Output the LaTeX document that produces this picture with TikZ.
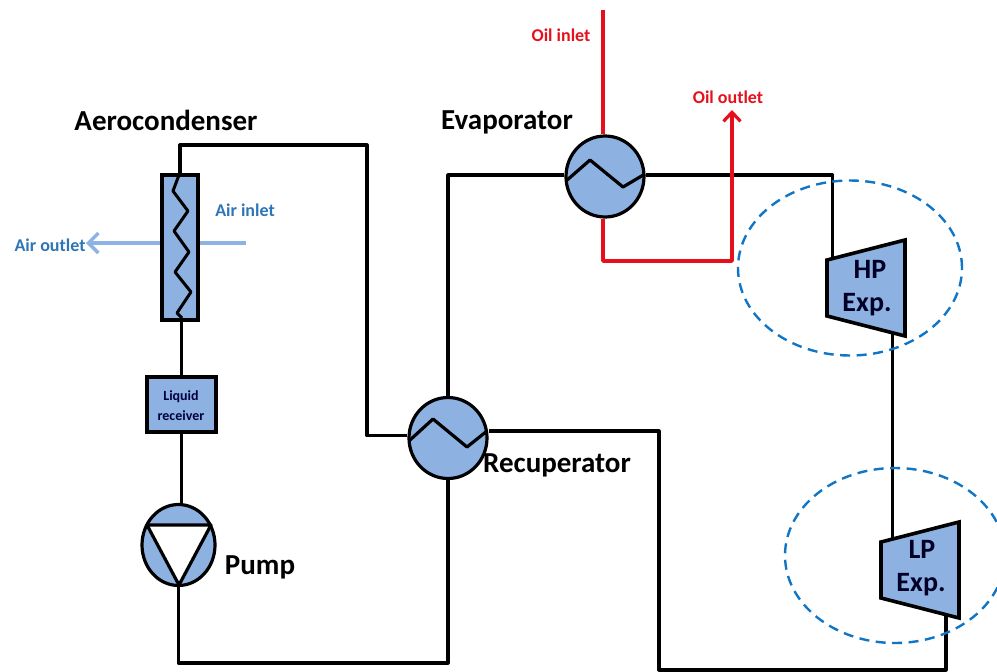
\documentclass[tikz,border=0pt]{standalone}
\usepackage{fontspec}
\setmainfont{Carlito}
\usetikzlibrary{shapes.geometric,arrows.meta}
\definecolor{eqfill}{HTML}{8DB1E1}
\definecolor{oilred}{HTML}{E6101C}
\definecolor{airline}{HTML}{8FB2E4}
\definecolor{airtext}{HTML}{2E75B6}
\definecolor{dashblue}{HTML}{0F75C4}
\tikzset{
  pipe/.style={draw=black,line width=3.2pt,line join=round},
  oil/.style={draw=oilred,line width=3.4pt,line join=round},
  air/.style={draw=airline,line width=3.4pt},
  hx/.style={ellipse,draw=black,fill=eqfill,line width=3.2pt,inner sep=0pt,minimum width=78pt,minimum height=81pt},
  eqbox/.style={rectangle,draw=black,fill=eqfill,line width=3.4pt,inner sep=0pt},
  expander/.style={draw=black,fill=eqfill,line width=3.6pt,line join=miter},
  zone/.style={draw=dashblue,line width=2.4pt,dash pattern=on 10pt off 6.5pt},
  title/.style={font=\bfseries\fontsize{29}{32}\selectfont,text=black,inner sep=0pt},
  exptext/.style={font=\bfseries\fontsize{28}{32}\selectfont,text=black!85!blue,inner sep=0pt},
  small/.style={font=\bfseries\fontsize{18}{20}\selectfont,inner sep=0pt},
  tiny/.style={font=\bfseries\fontsize{14}{16}\selectfont,text=black!75!blue,inner sep=0pt}
}
\begin{document}
\begin{tikzpicture}[x=1pt,y=-1pt]
\useasboundingbox (0,0) rectangle (997,672);
% reference points of the free ends and the bends
\coordinate (oilin) at (603,10);
\coordinate (oilbend) at (603,261);
\coordinate (oilout) at (732,110);
\coordinate (airin) at (246,243);
\coordinate (airout) at (86,243);
\coordinate (hpin) at (832.5,258);
\coordinate (hpout) at (892.5,333);
\coordinate (lpin) at (892.5,538);
\coordinate (lpout) at (946,616);
\coordinate (top1) at (180,145);
\coordinate (top2) at (367,145);
\coordinate (bot1) at (178.5,663);
\coordinate (bot2) at (448,663);
\coordinate (ret1) at (946,670);
\coordinate (ret2) at (659,670);
\coordinate (ret3) at (659,431);
\coordinate (evapcorner) at (832.5,175);

% air stream (behind the condenser)
\draw[air,-{Straight Barb[length=10pt,width=20pt,line width=3.4pt]}] (airin) -- (airout);

% equipment
\node[eqbox,minimum width=36pt,minimum height=145pt] (cond) at (180,247.5) {};
\node[eqbox,minimum width=69pt,minimum height=55pt] (recv) at (181.5,404.5) {};
\node[hx,minimum width=73pt,minimum height=81pt] (pump) at (178.5,545) {};
\node[hx] (evap) at (605,176.5) {};
\node[hx] (recup) at (448,438) {};

% black connectors
\draw[pipe] (cond.north -| top1) -- (top1) -- (top2) |- (recup.177);
\draw[pipe] (cond.south -| recv.north) -- (recv.north);
\draw[pipe] (recv.south) -- (pump.north -| recv.south);
\draw[pipe] (pump.south) -- (bot1) -- (bot2) -- (recup.south);
\draw[pipe] (recup.north) |- (evap.178);
\draw[pipe] (evapcorner -| evap.east) -- (evapcorner) -- (hpin);
\draw[pipe] (hpout) -- (lpin);
\draw[pipe] (lpout) -- (ret1) -- (ret2) -- (ret3) -- (ret3 -| recup.east);

% oil loop
\draw[oil] (oilin) -- (evap.north -| oilin);
\draw[oil,-{Straight Barb[length=9pt,width=17pt,line width=3.2pt]}] (evap.south -| oilbend) -- (oilbend) -| (oilout);

% exchanger and condenser coils
\draw[pipe] (566,181) -- (590,160) -- (623,187) -- (645,174);
\draw[pipe] (410,440) -- (433,419) -- (467,447) -- (487,431);
\draw[line width=3pt,line join=round] (179,175) -- (173,191) -- (188,211) -- (174,231) -- (189,252) -- (175,272) -- (191,292) -- (177,313) -- (182,318);

% pump triangle
\draw[line width=3.2pt,line join=round,fill=white] (147,525) -- (211,525) -- (179,585) -- cycle;

% expanders
\draw[expander] (827,260) -- (905,240) -- (905,336) -- (827,316) -- cycle;
\draw[expander] (881,542) -- (959,522) -- (959,618) -- (881,598) -- cycle;

% dashed zones
\node[ellipse,zone,inner sep=0pt,minimum width=224pt,minimum height=175pt] (hpzone) at (850,268) {};
\draw[zone] (895,555.5) ellipse [x radius=110,y radius=87.5];

% labels
\node[title] (t1) at (166,120) {Aerocondenser};
\node[title] (t2) at (507,122) {Evaporator};
\node[title] (t3) at (557,465) {Recuperator};
\node[title] (t4) at (260,567) {Pump};
\node[exptext] (t5) at (870,269) {HP};
\node[exptext] (t6) at (867,305) {Exp.};
\node[exptext] (t7) at (922,549) {LP};
\node[exptext] (t8) at (921,585) {Exp.};
\node[tiny] (t9) at (181,397) {Liquid};
\node[tiny] (t14) at (181,416) {receiver};
\node[small,text=oilred] (t10) at (561,35) {Oil inlet};
\node[small,text=oilred] (t11) at (728,97) {Oil outlet};
\node[small,text=airtext] (t12) at (245,210) {Air inlet};
\node[small,text=airtext] (t13) at (50,245) {Air outlet};
\end{tikzpicture}
\end{document}
